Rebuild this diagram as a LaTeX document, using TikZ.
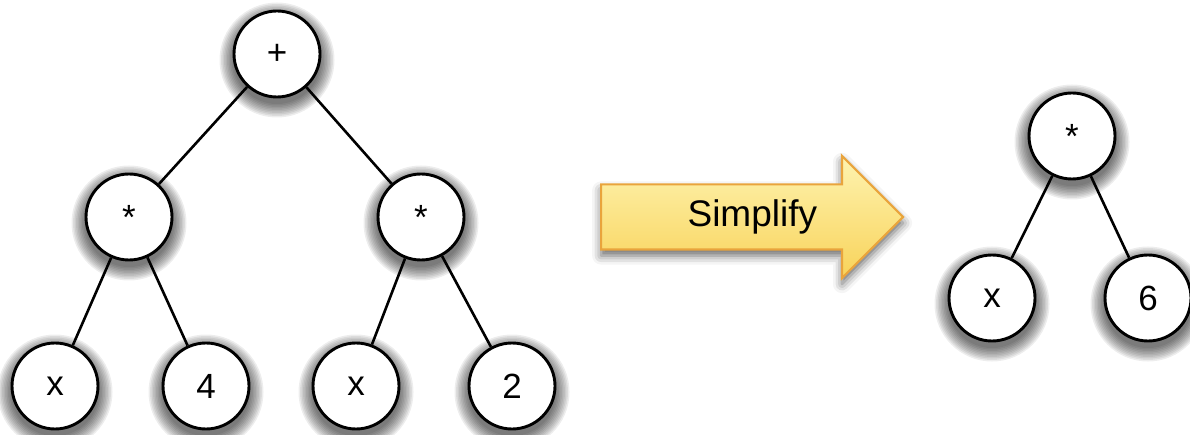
\documentclass[tikz,border=0pt]{standalone}
\usepackage{fontspec}
\setmainfont{Liberation Sans}
\usetikzlibrary{shapes.arrows,shadows.blur,calc}

\tikzset{
  tnode/.style={circle, draw=black, line width=2.9pt, fill=white,
    minimum size=86pt, inner sep=0pt, font=\fontsize{35}{37}\selectfont},
  halo/.style={fill=black, opacity=0.07},
  tedge/.style={line width=2.6pt, draw=black},
  simparrow/.style={single arrow, draw=arrowedge, line width=2.2pt,
    top color=arrowtop, bottom color=arrowbot,
    minimum height=302pt, minimum width=120pt,
    single arrow head extend=28.5pt, single arrow head indent=0pt,
    text height=25pt, text depth=7pt, inner ysep=15.5pt, inner xsep=0pt,
    blur shadow={shadow xshift=0pt, shadow yshift=-6pt,
      shadow blur radius=9pt, shadow opacity=60}},
  arrowlabel/.style={inner sep=0pt, font=\fontsize{37}{39}\selectfont}
}
\definecolor{arrowedge}{HTML}{E9A43C}
\definecolor{arrowtop}{HTML}{FEF3B0}
\definecolor{arrowbot}{HTML}{F8D35A}

\begin{document}
\begin{tikzpicture}[x=1pt, y=-1pt]
  \useasboundingbox (0,0) rectangle (1190,435);

  % soft drop shadows below every tree node: stacked translucent discs
  \foreach \cx/\cy in {277/54, 129/217, 421/217, 55/386, 206/386,
                       356/386, 512/386, 1072/136, 992/298, 1148/298}
    \foreach \r in {44,45.5,...,57.5}
      \fill[halo] (\cx,\cy+6) circle[radius=\r pt];

  % expression tree before simplification
  \node[tnode] (plus) at (277,54) {+};
  \node[tnode] (ml) at (129,217) {*};
  \node[tnode] (mr) at (421,217) {*};
  \node[tnode] (x1) at (55,386) {x};
  \node[tnode] (n4) at (206,386) {4};
  \node[tnode] (x2) at (356,386) {x};
  \node[tnode] (n2) at (512,386) {2};

  \draw[tedge] (plus) -- (ml);
  \draw[tedge] (plus) -- (mr);
  \draw[tedge] (ml) -- (x1);
  \draw[tedge] (ml) -- (n4);
  \draw[tedge] (mr) -- (x2);
  \draw[tedge] (mr) -- (n2);

  % transformation arrow, label centred over its full length
  \node[simparrow, anchor=tail] (simp) at (600,217) {};
  \node[arrowlabel] (simplabel) at ($(simp.tail)!0.5!(simp.tip)$) {Simplify};

  % simplified tree
  \node[tnode] (ms) at (1072,136) {*};
  \node[tnode] (xs) at (992,298) {x};
  \node[tnode] (n6) at (1148,298) {6};

  \draw[tedge] (ms) -- (xs);
  \draw[tedge] (ms) -- (n6);
\end{tikzpicture}
\end{document}
